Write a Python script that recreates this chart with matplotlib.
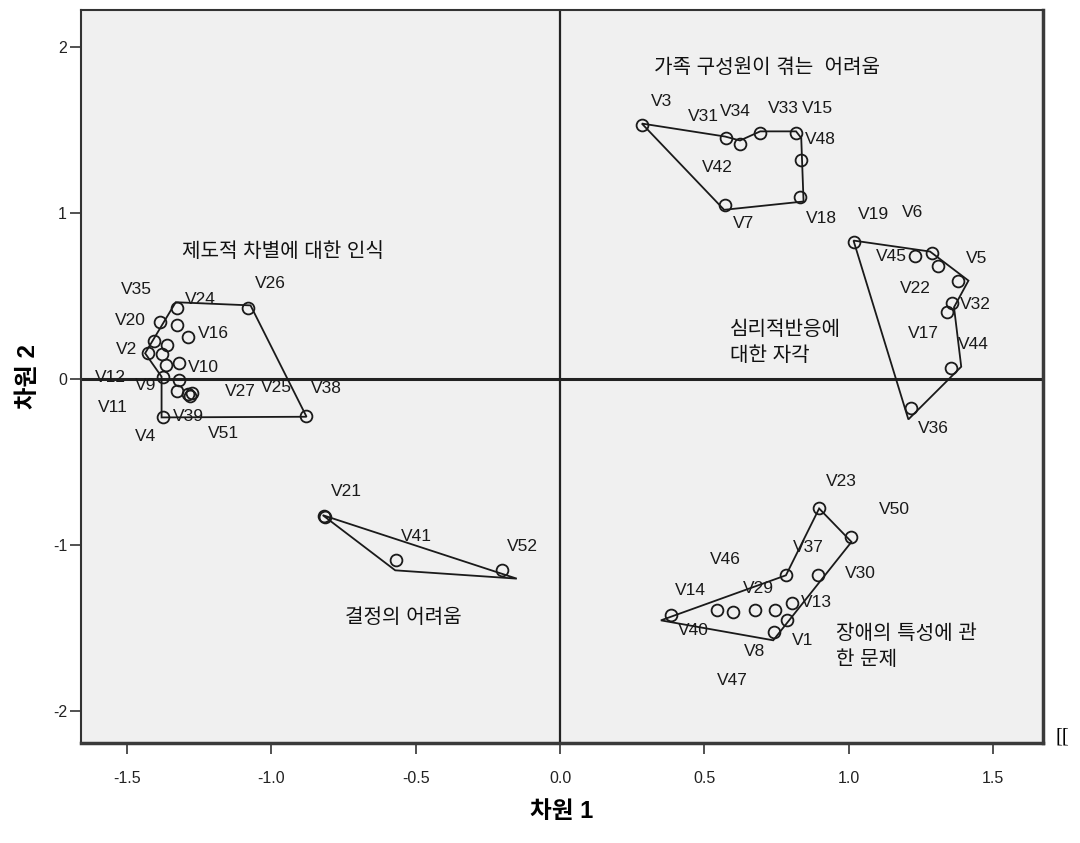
import matplotlib
matplotlib.use("Agg")
import matplotlib.pyplot as plt

plt.rcParams['font.family'] = ['Liberation Sans', 'Noto Sans CJK KR', 'DejaVu Sans']
plt.rcParams['axes.unicode_minus'] = False

# point coordinates (dimension 1, dimension 2), one group per cluster
pts_family_x = [0.283, 0.575, 0.623, 0.693, 0.817, 0.833, 0.829, 0.572]
pts_family_y = [1.530, 1.450, 1.416, 1.480, 1.480, 1.315, 1.095, 1.048]
pts_psych_x = [1.016, 1.229, 1.287, 1.310, 1.379, 1.356, 1.339, 1.353, 1.214]
pts_psych_y = [0.827, 0.741, 0.757, 0.677, 0.590, 0.456, 0.405, 0.064, -0.177]
pts_inst_x = [-1.327, -1.079, -1.385, -1.325, -1.287, -1.406, -1.360, -1.426, -1.379,
              -1.364, -1.318, -1.374, -1.318, -1.327, -1.288, -1.275, -1.281, -1.374, -0.880]
pts_inst_y = [0.426, 0.426, 0.345, 0.325, 0.251, 0.231, 0.205, 0.155, 0.151,
              0.084, 0.098, 0.014, -0.006, -0.070, -0.090, -0.086, -0.102, -0.227, -0.223]
pts_dec_x = [-0.814, -0.818, -0.568, -0.202]
pts_dec_y = [-0.833, -0.825, -1.090, -1.151]
pts_dis_x = [0.383, 0.545, 0.600, 0.675, 0.744, 0.802, 0.785, 0.741, 0.782, 0.894, 0.897, 1.006]
pts_dis_y = [-1.422, -1.392, -1.402, -1.392, -1.392, -1.347, -1.448, -1.522, -1.181, -1.181, -0.779, -0.950]

# cluster outlines
hull_family_x = [0.283, 0.571, 0.623, 0.693, 0.817, 0.835, 0.843, 0.568]
hull_family_y = [1.537, 1.459, 1.435, 1.490, 1.490, 1.450, 1.068, 1.018]
hull_psych_x = [1.016, 1.281, 1.316, 1.414, 1.364, 1.389, 1.206]
hull_psych_y = [0.833, 0.767, 0.721, 0.592, 0.432, 0.074, -0.243]
hull_inst_x = [-1.331, -1.072, -0.878, -1.380, -1.380, -1.437]
hull_inst_y = [0.462, 0.443, -0.227, -0.231, 0.014, 0.155]
hull_dec_x = [-0.822, -0.571, -0.150]
hull_dec_y = [-0.819, -1.151, -1.201]
hull_dis_x = [0.349, 0.782, 0.897, 1.009, 0.738]
hull_dis_y = [-1.452, -1.181, -0.779, -0.980, -1.572]

# variable labels and where they sit
var_names = ['V3', 'V31', 'V34', 'V33', 'V15', 'V48', 'V42', 'V7', 'V18',
             'V19', 'V6', 'V45', 'V5', 'V22', 'V32', 'V17', 'V44', 'V36',
             'V35', 'V24', 'V26', 'V20', 'V16', 'V2', 'V10', 'V12', 'V9', 'V27',
             'V25', 'V38', 'V11', 'V39', 'V4', 'V51',
             'V21', 'V41', 'V52',
             'V23', 'V50', 'V37', 'V46', 'V30', 'V14', 'V29', 'V13', 'V40', 'V1', 'V8', 'V47']
var_x = [0.352, 0.496, 0.606, 0.772, 0.890, 0.900, 0.543, 0.635, 0.906,
         1.084, 1.219, 1.149, 1.443, 1.229, 1.437, 1.258, 1.431, 1.293,
         -1.466, -1.247, -1.004, -1.489, -1.200, -1.500, -1.236, -1.558, -1.437, -1.108,
         -0.981, -0.808, -1.547, -1.287, -1.437, -1.166,
         -0.741, -0.499, -0.129,
         0.975, 1.157, 0.860, 0.571, 1.041, 0.450, 0.687, 0.889, 0.462, 0.840, 0.675, 0.598]
var_y = [1.670, 1.577, 1.607, 1.625, 1.625, 1.440, 1.275, 0.934, 0.968,
         0.988, 1.000, 0.737, 0.727, 0.546, 0.446, 0.275, 0.205, -0.297,
         0.540, 0.480, 0.572, 0.351, 0.271, 0.179, 0.070, 0.010, -0.042, -0.077,
         -0.050, -0.056, -0.170, -0.227, -0.348, -0.327,
         -0.679, -0.946, -1.006,
         -0.619, -0.785, -1.014, -1.086, -1.170, -1.275, -1.261, -1.342, -1.516, -1.572, -1.637, -1.813]

# cluster titles
group_names = ['가족 구성원이 겪는  어려움', '심리적반응에\n대한 자각', '제도적 차별에 대한 인식',
               '결정의 어려움', '장애의 특성에 관\n한 문제']
group_x = [0.717, 0.589, -0.959, -0.543, 0.956]
group_y = [1.873, 0.220, 0.765, -1.432, -1.608]
group_ha = ['center', 'left', 'center', 'center', 'left']

x_ticks = [-1.5, -1.0, -0.5, 0.0, 0.5, 1.0, 1.5]
y_ticks = [-2, -1, 0, 1, 2]

fig = plt.figure(figsize=(10.8, 8.43), dpi=100)
ax = fig.add_axes([0.075, 0.1186, 0.8907, 0.8695])
ax.set_facecolor('#f0f0f0')

ax.axhline(0, color='#222222', lw=2.2, zorder=1)
ax.axvline(0, color='#222222', lw=1.6, zorder=1)

clusters = [(pts_family_x, pts_family_y, hull_family_x, hull_family_y),
            (pts_psych_x, pts_psych_y, hull_psych_x, hull_psych_y),
            (pts_inst_x, pts_inst_y, hull_inst_x, hull_inst_y),
            (pts_dec_x, pts_dec_y, hull_dec_x, hull_dec_y),
            (pts_dis_x, pts_dis_y, hull_dis_x, hull_dis_y)]
for px, py, hx, hy in clusters:
    ax.fill(hx, hy, fill=False, edgecolor='#1a1a1a', lw=1.3, zorder=2)
    ax.plot(px, py, 'o', ms=8.5, mfc='none', mec='#1a1a1a', mew=1.3, zorder=3)

for name, tx, ty in zip(var_names, var_x, var_y):
    ax.text(tx, ty, name, fontsize=12.5, color='#1a1a1a', ha='center', va='center', zorder=4)

for name, tx, ty, ha in zip(group_names, group_x, group_y, group_ha):
    ax.text(tx, ty, name, fontsize=14.5, color='#111111', ha=ha, va='center',
            linespacing=1.5, zorder=4)

ax.set_xlim(-1.659, 1.672)
ax.set_ylim(-2.19, 2.22)
ax.set_xticks(x_ticks)
ax.set_xticklabels([f'{v:.1f}' for v in x_ticks])
ax.set_yticks(y_ticks)
ax.tick_params(axis='both', direction='out', length=8, width=1.2, color='#333333',
               labelsize=11.5, labelcolor='#222222')
ax.tick_params(axis='x', pad=12)
ax.tick_params(axis='y', pad=2)

for side in ['top', 'left']:
    ax.spines[side].set_color('#333333')
    ax.spines[side].set_linewidth(1.5)
for side in ['bottom', 'right']:
    ax.spines[side].set_color('#3a3a3a')
    ax.spines[side].set_linewidth(2.5)

ax.set_xlabel('차원 1', fontsize=17, fontweight='bold', labelpad=10)
ax.set_ylabel('차원 2', fontsize=17.5, fontweight='bold', labelpad=9)

fig.text(1062 / 1080, 1 - 737 / 843, '[[', fontsize=15, family='Liberation Serif',
         ha='center', va='center')

fig.savefig('out.png', dpi=100)
plt.close(fig)
